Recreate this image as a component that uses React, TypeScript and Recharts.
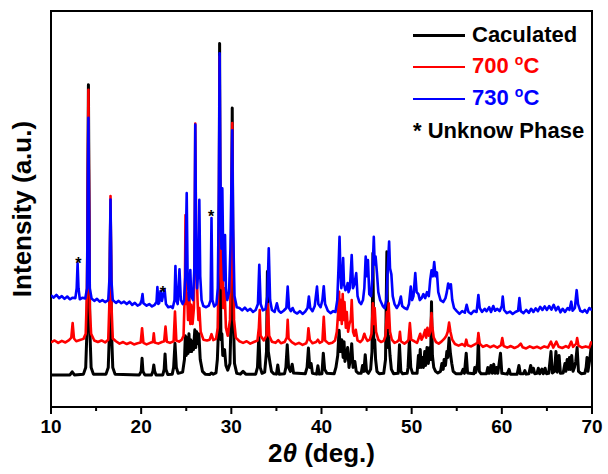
import React from "react";
import {
  LineChart,
  Line,
  XAxis,
  YAxis,
  ReferenceArea,
  ReferenceDot,
  Legend,
  Label,
} from "recharts";

const FONT = '"Liberation Sans", Arial, Helvetica, sans-serif';

const seriesNames = ["Caculated", "700 °C", "730 °C"];
const seriesColors = ["#000000", "#ff0000", "#0000ff"];
const xTicks = [10, 15, 20, 25, 30, 35, 40, 45, 50, 55, 60, 65, 70];

// [2theta, intensity] (intensity in arbitrary units, 0-100 frame)
const calculated: [number, number][] = [
  [10, 8.1], [12.1, 8.1], [12.35, 8.9], [12.6, 8.1],
  [13.6, 8.3], [13.85, 10], [14.0, 20], [14.1, 60], [14.15, 81.4], [14.2, 60], [14.3, 20], [14.45, 10], [14.7, 8.3],
  [16.1, 8.3], [16.35, 10], [16.5, 20], [16.6, 46.8], [16.7, 20], [16.85, 10], [17.1, 8.3],
  [19.8, 8.1], [20.0, 9], [20.1, 12.3], [20.2, 9], [20.4, 8.1],
  [21.15, 8.1], [21.3, 9], [21.4, 10.6], [21.5, 9], [21.65, 8.1],
  [22.4, 8.1], [22.55, 9.5], [22.65, 13.4], [22.75, 9.5], [22.95, 8.2],
  [23.45, 8.3], [23.6, 10], [23.75, 16.1], [23.9, 10], [24.1, 8.5],
  [24.6, 8.8], [24.8, 12], [24.9, 18], [25.0, 13], [25.1, 17.5], [25.2, 13.5], [25.3, 18.5], [25.4, 14],
  [25.5, 17], [25.6, 14], [25.7, 16.5], [25.8, 14.5], [25.95, 19.5], [26.05, 15], [26.15, 19], [26.3, 16],
  [26.4, 18.5], [26.55, 12], [26.8, 9], [27.1, 8.3],
  [27.6, 8.2], [27.8, 8.6], [28.0, 8.3],
  [28.3, 8.6], [28.45, 12], [28.55, 18], [28.65, 40], [28.7, 91.8], [28.75, 40], [28.85, 17], [28.95, 18.5],
  [29.05, 13], [29.25, 14.5], [29.4, 10.5], [29.6, 9.3], [29.85, 11], [30.0, 25], [30.1, 75.5], [30.2, 25],
  [30.35, 11], [30.6, 8.5],
  [31.0, 8.3], [31.3, 9], [31.6, 8.3],
  [32.7, 8.3], [32.9, 10], [33.05, 18], [33.2, 10], [33.4, 8.5],
  [33.7, 8.8], [33.9, 14], [34.0, 34.2], [34.1, 14], [34.3, 11], [34.45, 9], [34.7, 8.4],
  [35.0, 8.3], [35.15, 10.6], [35.3, 8.3],
  [35.9, 8.4], [36.05, 10], [36.2, 15.7], [36.35, 10], [36.55, 9], [36.75, 10.8], [36.9, 8.6],
  [38.2, 8.4], [38.4, 10], [38.55, 14.9], [38.7, 10], [38.85, 11], [39.0, 8.5],
  [39.45, 8.3], [39.6, 10.4], [39.75, 8.3],
  [40.05, 8.4], [40.2, 13.6], [40.35, 9.5], [40.6, 8.5],
  [41.4, 8.4], [41.6, 10], [41.8, 13], [41.95, 19.4], [42.1, 14], [42.25, 17], [42.4, 12.5], [42.5, 16.5],
  [42.6, 11.5], [42.75, 13], [42.9, 15], [43.05, 10], [43.25, 12.5], [43.35, 16], [43.5, 10], [43.7, 11.5],
  [43.85, 9], [44.1, 8.5],
  [44.4, 8.5], [44.55, 10.5], [44.7, 9], [44.85, 13.2], [45.0, 9], [45.2, 8.5],
  [45.45, 9.5], [45.6, 14], [45.7, 38.8], [45.8, 15], [45.9, 17], [46.0, 12], [46.15, 9], [46.4, 8.4],
  [46.9, 8.5], [47.1, 12], [47.25, 39.2], [47.35, 15], [47.45, 18], [47.6, 13], [47.75, 9.5], [48.0, 8.4],
  [48.5, 8.5], [48.65, 15.7], [48.8, 9], [49.0, 8.4],
  [49.5, 8.5], [49.6, 10], [49.75, 17], [49.9, 10], [50.1, 8.5],
  [50.6, 8.5], [50.75, 13], [50.85, 10], [50.95, 14.5], [51.05, 10], [51.2, 12.5], [51.3, 10], [51.45, 14],
  [51.55, 10.5], [51.7, 15], [51.85, 11], [52.0, 15], [52.1, 12], [52.2, 26.6], [52.3, 13], [52.45, 10],
  [52.65, 9], [52.9, 8.6],
  [53.2, 9], [53.35, 11], [53.5, 9.5], [53.6, 12], [53.75, 10.5], [53.9, 14], [54.0, 12.5], [54.15, 17.4],
  [54.3, 13.5], [54.45, 11], [54.6, 9], [54.9, 8.4],
  [55.5, 8.4], [55.7, 9.5], [55.85, 8.5], [56.05, 13.6], [56.2, 8.6],
  [56.9, 8.4], [57.0, 10], [57.1, 8.7], [57.3, 11], [57.4, 17.5], [57.5, 9], [57.7, 8.4],
  [58.3, 8.4], [58.45, 10], [58.6, 8.5], [58.8, 10.5], [58.95, 8.5], [59.1, 10.8], [59.25, 8.5], [59.4, 10],
  [59.55, 8.5], [59.85, 13.6], [60.0, 8.5],
  [60.6, 8.3], [60.8, 9.5], [60.95, 8.3],
  [61.7, 8.3], [61.9, 10.5], [62.05, 8.4], [62.4, 8.4], [62.55, 9.2], [62.7, 8.3],
  [63.0, 8.4], [63.2, 10.5], [63.35, 8.8], [63.5, 9.8], [63.65, 8.4], [63.9, 8.5], [64.05, 9.8], [64.2, 8.4],
  [64.45, 9.6], [64.6, 8.4], [64.8, 9.8], [64.95, 8.4],
  [65.2, 8.5], [65.45, 14], [65.6, 8.6], [65.85, 9], [66.0, 14], [66.15, 8.8], [66.35, 13], [66.5, 8.5],
  [66.8, 8.6], [67.0, 11], [67.1, 9], [67.25, 12], [67.4, 9.5], [67.5, 12.5], [67.6, 9.5], [67.75, 13],
  [67.9, 9], [68.05, 10], [68.2, 11.5], [68.35, 15], [68.5, 9], [68.8, 8.4],
  [69.2, 8.5], [69.35, 10], [69.45, 12.5], [69.55, 9], [69.75, 12], [69.9, 15], [70, 12],
];

const sample700: [number, number][] = [
  [10, 16.3], [10.4, 16.8], [10.8, 16.2], [11.2, 16.7], [11.6, 16.3], [12.0, 16.9], [12.25, 17.5], [12.4, 21.2],
  [12.55, 17.3], [12.8, 16.6], [13.2, 16.9], [13.6, 17.2], [13.85, 18.5], [14.0, 30], [14.1, 65], [14.15, 80.1],
  [14.2, 60], [14.3, 25], [14.45, 18.5], [14.8, 16.8], [15.2, 16.4], [15.6, 16.8], [16.0, 16.3], [16.35, 17],
  [16.5, 28], [16.6, 53.3], [16.7, 26], [16.85, 17.3], [17.2, 16.6], [17.6, 16.0], [18.0, 16.4], [18.4, 15.9],
  [18.8, 16.3], [19.2, 15.8], [19.6, 16.1], [19.95, 16.3], [20.1, 19.9], [20.25, 16.2], [20.6, 15.8], [21.0, 16.2],
  [21.3, 16.4], [21.4, 18.6], [21.5, 16.3], [21.9, 16.0], [22.3, 16.4], [22.55, 16.6], [22.7, 20.3], [22.85, 16.5],
  [23.2, 16.2], [23.6, 16.6], [23.75, 24.1], [23.9, 16.8], [24.2, 16.5], [24.5, 17], [24.7, 18], [24.85, 30],
  [24.92, 48.5], [25.0, 26], [25.1, 28.8], [25.2, 22], [25.35, 27.5], [25.45, 21], [25.55, 25.8], [25.7, 21],
  [25.85, 25], [25.95, 45], [26.0, 71.6], [26.1, 40], [26.25, 27], [26.35, 22], [26.45, 25], [26.6, 19],
  [26.9, 17], [27.3, 16.8], [27.6, 17], [27.8, 18.4], [28.0, 16.9], [28.3, 17.2], [28.5, 20], [28.62, 45],
  [28.7, 88.5], [28.78, 40], [28.9, 30], [29.0, 45], [29.1, 25], [29.25, 30], [29.4, 20], [29.6, 18],
  [29.85, 22], [30.0, 40], [30.1, 71.7], [30.18, 40], [30.3, 22], [30.5, 17.5], [30.9, 16.6], [31.3, 16.2],
  [31.7, 16.6], [32.1, 16.0], [32.5, 16.4], [32.9, 16.8], [33.05, 20], [33.15, 24.5], [33.25, 18], [33.6, 16.8],
  [33.9, 18], [34.05, 26], [34.2, 18], [34.5, 16.5], [34.9, 16.2], [35.2, 16.9], [35.5, 16.1], [35.9, 16.4],
  [36.15, 17.5], [36.25, 22], [36.35, 17.3], [36.7, 16.4], [37.1, 15.8], [37.5, 16.2], [37.9, 15.7], [38.3, 16.1],
  [38.45, 17], [38.55, 19.9], [38.7, 17], [39.0, 16.1], [39.4, 16.4], [39.6, 17], [39.8, 16.2], [40.1, 16.6],
  [40.25, 22.8], [40.4, 16.8], [40.8, 16.0], [41.2, 16.2], [41.5, 16.8], [41.7, 19], [41.85, 24], [41.95, 29.1],
  [42.05, 22], [42.15, 27], [42.25, 21], [42.35, 28.5], [42.45, 22], [42.55, 26.5], [42.7, 20], [42.8, 24],
  [42.95, 19], [43.1, 21], [43.25, 22], [43.35, 27], [43.5, 19], [43.65, 18], [43.8, 19.5], [44.0, 16.8],
  [44.3, 16.4], [44.55, 17], [44.75, 18.5], [44.9, 17.5], [45.1, 16.7], [45.35, 17], [45.55, 18.5], [45.7, 26.2],
  [45.8, 21], [45.9, 25], [46.05, 19], [46.3, 17], [46.6, 16.4], [46.9, 16.7], [47.1, 18], [47.25, 24],
  [47.35, 20], [47.45, 26.2], [47.6, 19], [47.8, 17], [48.1, 16.2], [48.4, 16.5], [48.6, 17], [48.7, 19],
  [48.8, 16.6], [49.2, 16], [49.5, 16.5], [49.65, 17], [49.8, 21.2], [49.95, 17], [50.3, 16.6], [50.6, 16.2],
  [50.8, 17.5], [50.95, 18.5], [51.1, 17], [51.3, 18], [51.5, 19.5], [51.6, 17.5], [51.75, 20], [51.9, 18],
  [52.05, 19], [52.2, 23.7], [52.3, 20], [52.45, 17.5], [52.7, 16.4], [53.0, 16], [53.3, 16.5], [53.6, 17.2],
  [53.85, 18], [54.0, 19], [54.15, 21.3], [54.3, 19], [54.5, 17], [54.8, 15.9], [55.2, 15.5], [55.6, 15.9],
  [55.9, 15.4], [56.05, 17], [56.2, 15.6], [56.6, 15.3], [57.0, 15.8], [57.3, 16.2], [57.4, 18.7], [57.55, 16],
  [57.9, 15.2], [58.3, 15.6], [58.7, 15.1], [59.1, 15.5], [59.5, 15.0], [59.9, 15.6], [60.05, 17.4], [60.2, 15.4],
  [60.6, 15.0], [61.0, 15.4], [61.4, 14.9], [61.8, 15.3], [62.1, 16], [62.3, 15.1], [62.7, 14.8], [63.1, 15.3],
  [63.5, 14.9], [63.9, 15.2], [64.3, 14.8], [64.7, 15.3], [65.1, 15.0], [65.45, 16.5], [65.7, 15.0], [66.05, 16.5],
  [66.3, 15.2], [66.7, 14.9], [67.1, 15.4], [67.4, 15.0], [67.7, 16.5], [67.9, 15.2], [68.25, 16], [68.35, 17.4],
  [68.5, 15.5], [68.9, 15.0], [69.3, 15.3], [69.7, 15.0], [69.9, 16.3], [70, 15.8],
];

const sample730: [number, number][] = [
  [10, 28.2], [10.3, 27.6], [10.6, 28.3], [10.9, 27.5], [11.2, 28.0], [11.5, 27.3], [11.8, 27.9], [12.1, 27.2],
  [12.4, 27.6], [12.7, 27.5], [12.85, 30], [12.95, 36.3], [13.05, 30], [13.2, 27.2], [13.5, 27.6], [13.8, 27.4],
  [14.0, 30], [14.1, 60], [14.15, 73], [14.2, 55], [14.3, 30], [14.5, 27.4], [14.8, 26.8], [15.1, 27.3],
  [15.4, 26.6], [15.7, 27.0], [16.0, 26.5], [16.35, 27], [16.5, 33], [16.6, 52.4], [16.7, 32], [16.85, 27],
  [17.2, 26.3], [17.5, 26.8], [17.8, 26.2], [18.1, 26.6], [18.4, 26.0], [18.7, 26.6], [19.0, 25.8], [19.3, 26.3],
  [19.6, 25.6], [19.9, 26.0], [20.05, 27], [20.15, 28.5], [20.25, 26.2], [20.6, 25.6], [20.9, 26.0], [21.2, 25.4],
  [21.5, 25.8], [21.7, 26.5], [21.8, 30.3], [21.9, 26], [22.0, 26.3], [22.15, 29.3], [22.3, 26.8], [22.45, 28.5],
  [22.6, 29.7], [22.75, 26], [23.0, 25.2], [23.3, 25.4], [23.5, 25.0], [23.7, 27], [23.8, 35.6], [23.9, 27],
  [24.05, 26], [24.25, 34.8], [24.4, 27], [24.6, 26], [24.75, 26.8], [24.9, 33], [25.05, 54], [25.15, 33],
  [25.3, 27], [25.45, 34.6], [25.55, 28], [25.75, 27], [25.9, 35], [26.0, 71.3], [26.08, 45], [26.2, 30],
  [26.35, 35], [26.45, 52.3], [26.55, 33], [26.7, 27], [26.9, 25.5], [27.2, 25.2], [27.5, 25.6], [27.7, 27],
  [27.8, 47.7], [27.9, 27], [28.1, 25.4], [28.35, 26], [28.5, 30], [28.62, 55], [28.7, 89.3], [28.78, 60],
  [28.9, 40], [29.0, 55.2], [29.1, 38], [29.2, 32], [29.3, 43.4], [29.4, 30], [29.55, 27], [29.75, 29],
  [29.9, 40], [30.0, 55], [30.1, 69.9], [30.2, 45], [30.35, 28], [30.6, 25.2], [30.9, 25.0], [31.2, 24.4],
  [31.5, 25.1], [31.8, 24.3], [32.1, 24.8], [32.4, 24.0], [32.7, 24.5], [32.95, 26], [33.1, 35.9], [33.25, 26],
  [33.5, 24.4], [33.8, 24.8], [34.0, 28], [34.15, 40.1], [34.3, 27], [34.5, 24.5], [34.8, 24.0], [35.05, 26.2],
  [35.25, 24.3], [35.5, 23.8], [35.8, 24.3], [36.1, 25], [36.25, 30.4], [36.4, 25], [36.6, 24.2], [36.8, 25],
  [37.0, 24], [37.3, 23.6], [37.6, 24.2], [37.9, 23.5], [38.2, 24.1], [38.45, 25], [38.6, 27.9], [38.75, 25],
  [39.0, 24.2], [39.25, 25.5], [39.5, 30.4], [39.65, 26], [39.9, 25.2], [40.1, 27], [40.25, 30.5], [40.4, 26],
  [40.7, 24.3], [41.0, 23.7], [41.3, 24.2], [41.55, 24], [41.75, 27], [41.9, 36], [42.0, 43], [42.1, 34],
  [42.2, 30], [42.3, 32], [42.4, 37.6], [42.5, 31], [42.65, 29.5], [42.8, 30], [42.9, 31.3], [43.0, 29],
  [43.15, 30], [43.35, 38.4], [43.5, 30], [43.65, 31], [43.85, 33.8], [44.0, 28], [44.2, 26.5], [44.4, 26],
  [44.6, 27], [44.75, 30], [44.9, 38], [45.05, 33], [45.15, 37.1], [45.3, 28.5], [45.5, 28], [45.65, 33],
  [45.8, 43], [45.9, 36], [46.0, 38], [46.15, 33.8], [46.3, 29], [46.5, 27], [46.8, 25.5], [47.0, 25],
  [47.2, 27], [47.35, 35], [47.5, 41.8], [47.6, 35], [47.75, 33.5], [47.9, 28], [48.1, 26], [48.35, 25],
  [48.6, 26], [48.8, 27.9], [48.95, 25.5], [49.2, 25], [49.5, 24.7], [49.7, 26], [49.9, 30.4], [50.05, 27],
  [50.2, 28], [50.4, 33.8], [50.55, 29], [50.75, 28.5], [50.9, 27], [51.1, 27.5], [51.3, 28.5], [51.5, 27.5],
  [51.7, 29], [51.9, 28], [52.05, 32], [52.2, 34.5], [52.35, 33], [52.5, 36.6], [52.65, 33], [52.8, 34],
  [52.95, 29], [53.2, 27], [53.5, 26.5], [53.75, 27.5], [53.9, 29], [54.05, 31.2], [54.2, 30], [54.35, 31],
  [54.5, 27], [54.7, 25], [55.0, 24.2], [55.3, 23.5], [55.6, 24.2], [55.9, 23.8], [56.1, 25.8], [56.3, 24.0],
  [56.6, 23.5], [56.9, 24.3], [57.2, 24], [57.4, 28.3], [57.55, 25], [57.8, 24], [58.1, 24.8], [58.3, 24.2],
  [58.6, 25.2], [58.8, 24.0], [59.05, 25.5], [59.25, 24.3], [59.5, 24.8], [59.75, 24.2], [60.0, 25.5], [60.1, 27.9],
  [60.25, 24.5], [60.55, 23.7], [60.9, 24.1], [61.2, 23.5], [61.5, 24], [61.8, 24.3], [61.95, 27.5], [62.1, 24.2],
  [62.4, 23.7], [62.7, 24.5], [63.0, 23.8], [63.25, 24.8], [63.5, 24.0], [63.75, 24.9], [64.0, 24.2], [64.25, 25.3],
  [64.5, 24.5], [64.75, 25.4], [65.0, 24.5], [65.25, 25.5], [65.5, 24.6], [65.75, 25.8], [66.0, 24.4], [66.25, 25.3],
  [66.5, 23.9], [66.75, 24.8], [67.0, 24.0], [67.3, 25.0], [67.5, 24.5], [67.7, 26.6], [67.85, 24.3], [68.1, 25],
  [68.3, 29.5], [68.45, 26], [68.7, 24.3], [68.95, 24.0], [69.2, 24.5], [69.45, 23.8], [69.7, 25.0], [69.9, 24.6],
  [70, 24.8],
];

// "*" unknown-phase markers: [2theta, height]
const unknownPeaks: [number, number][] = [
  [13.03, 37.1],
  [22.42, 29.8],
  [27.76, 49.0],
];

const toPoints = (arr: [number, number][]) => arr.map(([x, y]) => ({ x, y }));
const seriesData = [calculated, sample700, sample730].map(toPoints);
const strokeWidths = [3, 2.6, 2.6];

function AxisTick(props: any) {
  const { x, y, payload } = props;
  const major = payload.value % 10 === 0;
  return (
    <g>
      <line x1={x} y1={y} x2={x} y2={y + (major ? 7 : 4)} stroke="#000" strokeWidth={2} />
      {major && (
        <text x={x} y={y + 26} textAnchor="middle" fontSize={19} fontWeight="bold" fontFamily={FONT} fill="#000">
          {payload.value}
        </text>
      )}
    </g>
  );
}

function renderName(name: string) {
  if (name.endsWith("°C")) {
    const num = name.replace("°C", "").trim();
    return (
      <>
        {num}{" "}
        <span style={{ fontSize: 14, position: "relative", top: -8 }}>o</span>C
      </>
    );
  }
  return name;
}

function LegendBox() {
  return (
    <div style={{ fontFamily: FONT, fontWeight: "bold", fontSize: 22 }}>
      {seriesNames.map((name, i) => (
        <div key={name} style={{ display: "flex", alignItems: "center", height: 32 }}>
          <div style={{ width: 52, height: i === 0 ? 3 : 2, background: seriesColors[i], marginRight: 7 }} />
          <span style={{ color: seriesColors[i], lineHeight: "32px", whiteSpace: "nowrap" }}>{renderName(name)}</span>
        </div>
      ))}
      <div style={{ height: 32, lineHeight: "32px", color: "#000", whiteSpace: "nowrap" }}>* Unknow Phase</div>
    </div>
  );
}

export default function App() {
  return (
    <div style={{ position: "absolute", left: 0, top: 0, width: 608, height: 474, background: "#fff" }}>
      <LineChart
        width={608}
        height={474}
        margin={{ top: 11, right: 16, bottom: 37, left: 51 }}
        style={{ fontFamily: FONT }}
      >
        <XAxis
          type="number"
          dataKey="x"
          domain={[10, 70]}
          ticks={xTicks}
          interval={0}
          allowDataOverflow
          axisLine={false}
          tickLine={false}
          tickSize={0}
          tickMargin={0}
          height={30}
          tick={<AxisTick />}
        >
          <Label
            content={() => (
              <g>
                <text x={321.5} y={462} textAnchor="middle" fontSize={26} fontWeight="bold" fontFamily={FONT} fill="#000">
                  2<tspan fontStyle="italic">θ</tspan> (deg.)
                </text>
                <text
                  x={31}
                  y={209}
                  transform="rotate(-90, 31, 209)"
                  textAnchor="middle"
                  fontSize={26}
                  fontWeight="bold"
                  fontFamily={FONT}
                  fill="#000"
                >
                  Intensity (a.u.)
                </text>
              </g>
            )}
          />
        </XAxis>
        <YAxis type="number" domain={[0, 100]} allowDataOverflow hide />
        {seriesData.map((data, i) => (
          <Line
            key={seriesNames[i]}
            data={data}
            dataKey="y"
            name={seriesNames[i]}
            type="linear"
            stroke={seriesColors[i]}
            strokeWidth={strokeWidths[i]}
            strokeLinejoin="round"
            dot={false}
            activeDot={false}
            isAnimationActive={false}
          />
        ))}
        {unknownPeaks.map(([x, y]) => (
          <ReferenceDot
            key={x}
            x={x}
            y={y}
            r={1}
            ifOverflow="visible"
            shape={(p: any) => (
              <text x={p.cx} y={p.cy + 9} textAnchor="middle" fontSize={16} fontWeight="bold" fontFamily={FONT} fill="#000">
                *
              </text>
            )}
          />
        ))}
        <ReferenceArea x1={10} x2={70} y1={0} y2={100} fill="none" stroke="#000" strokeWidth={2} ifOverflow="visible" />
        <Legend
          layout="vertical"
          align="center"
          verticalAlign="middle"
          wrapperStyle={{ left: 413, top: 19, width: 180 }}
          content={() => <LegendBox />}
        />
      </LineChart>
    </div>
  );
}
